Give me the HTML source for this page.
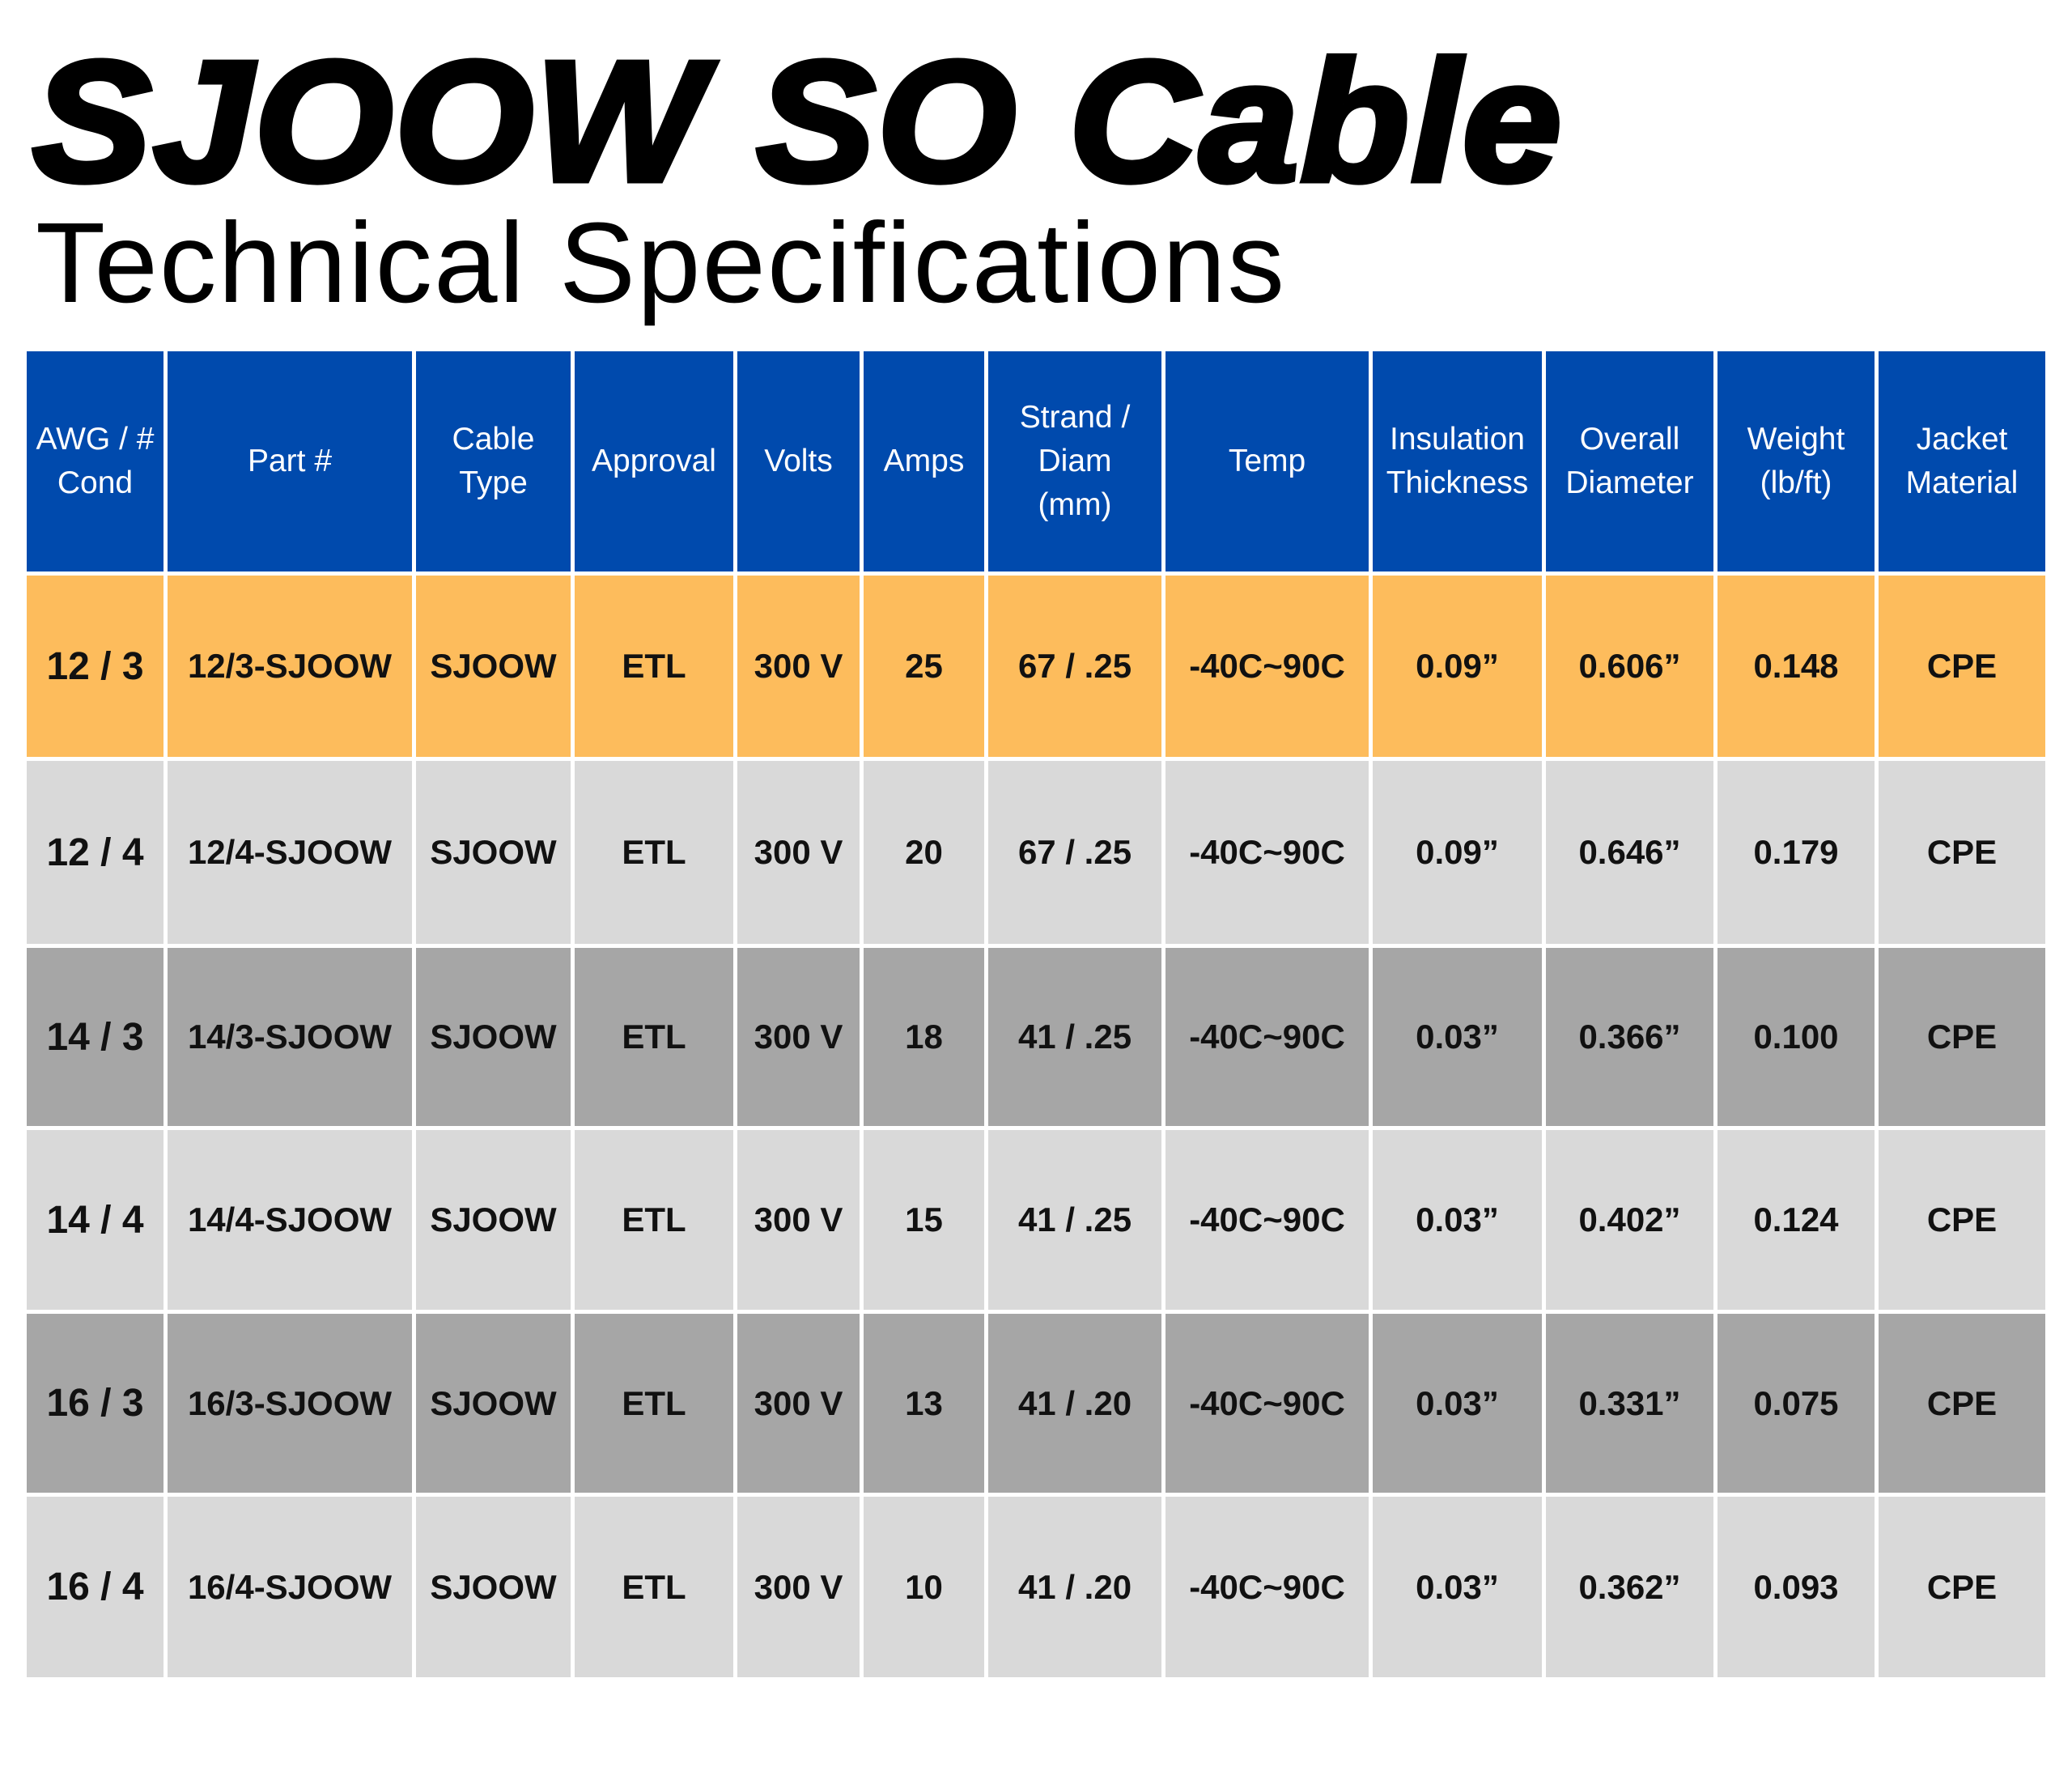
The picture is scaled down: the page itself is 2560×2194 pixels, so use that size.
<!DOCTYPE html>
<html><head><meta charset="utf-8"><style>
html,body{margin:0;padding:0;background:#fff;}
body{width:2560px;height:2194px;position:relative;overflow:hidden;font-family:"Liberation Sans",sans-serif;}
.t1{position:absolute;left:40px;top:44px;font-size:212px;font-weight:bold;font-style:italic;line-height:1;white-space:nowrap;color:#000;-webkit-text-stroke:7px #000;transform-origin:0 0;transform:scaleX(1.04);letter-spacing:2px;}
.t2{position:absolute;left:44px;top:254px;font-size:141px;line-height:1;white-space:nowrap;color:#000;letter-spacing:2px;}
.grid{position:absolute;left:33px;top:434px;display:grid;
grid-template-columns:169px 302px 191px 196px 151px 149px 214px 251px 209px 207px 194px 206px;
grid-template-rows:272px 224px 226px 220px 222px 221px 223px;gap:5px;}
.grid div{display:flex;align-items:center;justify-content:center;text-align:center;}
.h{background:#004aad;color:#fff;font-size:39px;line-height:54px;}
.r{font-weight:bold;font-size:42px;color:#111;}
.r.f{font-size:48px;}
.o{background:#fdbc5c}.l{background:#d9d9d9}.d{background:#a6a6a6}
</style></head><body>
<div class="t1">SJOOW SO Cable</div>
<div class="t2">Technical Specifications</div>
<div class="grid">
<div class="h">AWG / #<br>Cond</div><div class="h">Part #</div><div class="h">Cable<br>Type</div><div class="h">Approval</div><div class="h">Volts</div><div class="h">Amps</div><div class="h">Strand /<br>Diam<br>(mm)</div><div class="h">Temp</div><div class="h">Insulation<br>Thickness</div><div class="h">Overall<br>Diameter</div><div class="h">Weight<br>(lb/ft)</div><div class="h">Jacket<br>Material</div>

<div class="r f o">12 / 3</div><div class="r o">12/3-SJOOW</div><div class="r o">SJOOW</div><div class="r o">ETL</div><div class="r o">300 V</div><div class="r o">25</div><div class="r o">67 / .25</div><div class="r o">-40C~90C</div><div class="r o">0.09”</div><div class="r o">0.606”</div><div class="r o">0.148</div><div class="r o">CPE</div>

<div class="r f l">12 / 4</div><div class="r l">12/4-SJOOW</div><div class="r l">SJOOW</div><div class="r l">ETL</div><div class="r l">300 V</div><div class="r l">20</div><div class="r l">67 / .25</div><div class="r l">-40C~90C</div><div class="r l">0.09”</div><div class="r l">0.646”</div><div class="r l">0.179</div><div class="r l">CPE</div>

<div class="r f d">14 / 3</div><div class="r d">14/3-SJOOW</div><div class="r d">SJOOW</div><div class="r d">ETL</div><div class="r d">300 V</div><div class="r d">18</div><div class="r d">41 / .25</div><div class="r d">-40C~90C</div><div class="r d">0.03”</div><div class="r d">0.366”</div><div class="r d">0.100</div><div class="r d">CPE</div>

<div class="r f l">14 / 4</div><div class="r l">14/4-SJOOW</div><div class="r l">SJOOW</div><div class="r l">ETL</div><div class="r l">300 V</div><div class="r l">15</div><div class="r l">41 / .25</div><div class="r l">-40C~90C</div><div class="r l">0.03”</div><div class="r l">0.402”</div><div class="r l">0.124</div><div class="r l">CPE</div>

<div class="r f d">16 / 3</div><div class="r d">16/3-SJOOW</div><div class="r d">SJOOW</div><div class="r d">ETL</div><div class="r d">300 V</div><div class="r d">13</div><div class="r d">41 / .20</div><div class="r d">-40C~90C</div><div class="r d">0.03”</div><div class="r d">0.331”</div><div class="r d">0.075</div><div class="r d">CPE</div>

<div class="r f l">16 / 4</div><div class="r l">16/4-SJOOW</div><div class="r l">SJOOW</div><div class="r l">ETL</div><div class="r l">300 V</div><div class="r l">10</div><div class="r l">41 / .20</div><div class="r l">-40C~90C</div><div class="r l">0.03”</div><div class="r l">0.362”</div><div class="r l">0.093</div><div class="r l">CPE</div>
</div>
</body></html>
